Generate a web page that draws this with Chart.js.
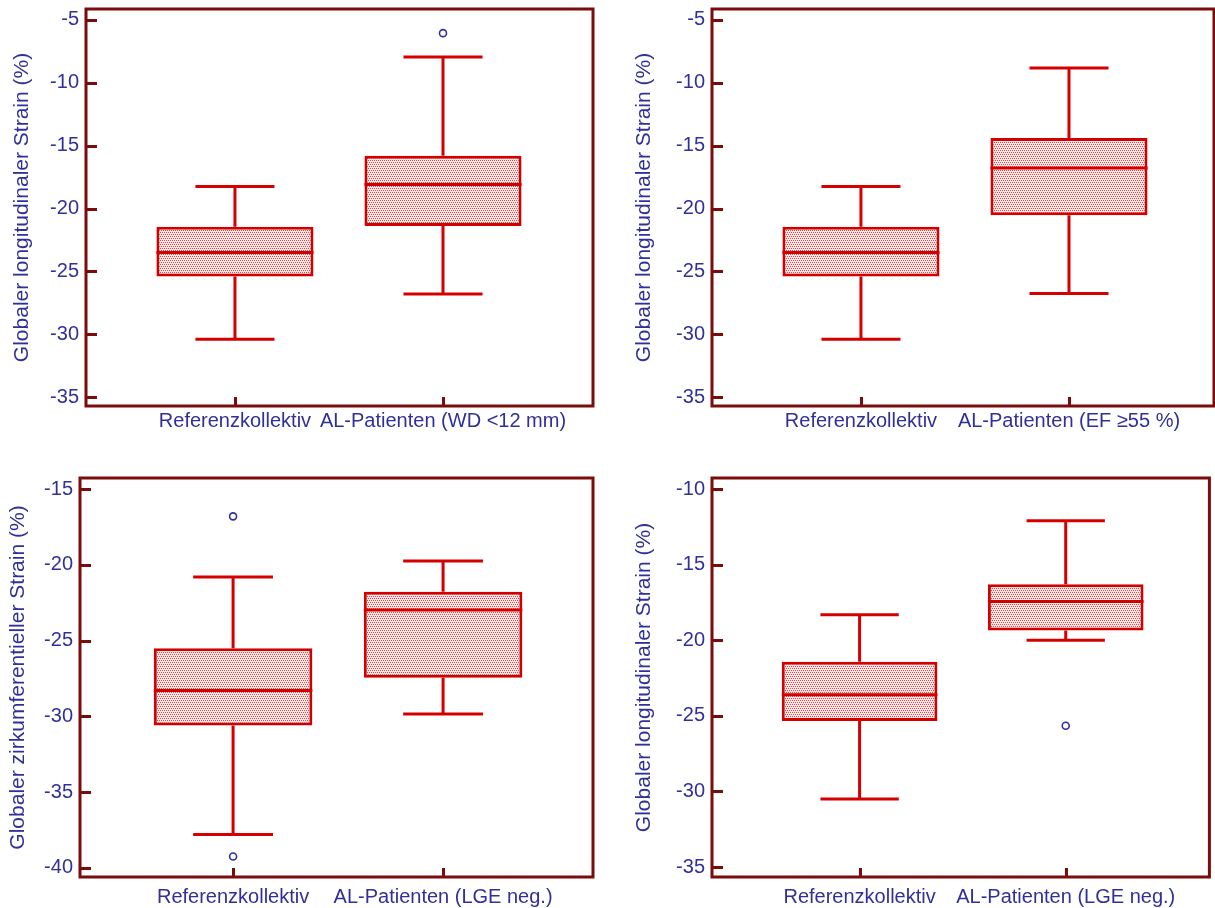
<!DOCTYPE html>
<html>
<head>
<meta charset="utf-8">
<title>Strain Boxplots</title>
<script src="https://cdn.jsdelivr.net/npm/chart.js@4.4.1/dist/chart.umd.min.js"></script>
<style>
  html, body { margin: 0; padding: 0; background: #fff; }
  .panel { position: absolute; }
</style>
</head>
<body>
<div class="panel" style="left:0;top:0;width:607px;height:454px"><canvas id="chartA"></canvas></div>
<div class="panel" style="left:607px;top:0;width:608px;height:454px"><canvas id="chartB"></canvas></div>
<div class="panel" style="left:0;top:454px;width:607px;height:454px"><canvas id="chartC"></canvas></div>
<div class="panel" style="left:607px;top:454px;width:608px;height:454px"><canvas id="chartD"></canvas></div>
<script>
// ---- data ----
const catsWD = ['Referenzkollektiv', 'AL-Patienten (WD <12 mm)'];
const catsEF = ['Referenzkollektiv', 'AL-Patienten (EF \u226555 %)'];
const catsLGE = ['Referenzkollektiv', 'AL-Patienten (LGE neg.)'];

const ticksGLS = [-35, -30, -25, -20, -15, -10, -5];
const ticksGCS = [-40, -35, -30, -25, -20, -15];
const ticksGLSLge = [-35, -30, -25, -20, -15, -10];

// GLS, WD < 12 mm
const wdMin = [-30.4, -26.8];
const wdQ1 = [-25.4, -21.4];
const wdMedian = [-23.5, -18.1];
const wdQ3 = [-21.45, -15.8];
const wdMax = [-18.25, -7.95];
const wdOutliers = [[], [-6.05]];

// GLS, EF >= 55 %
const efMin = [-30.4, -26.77];
const efQ1 = [-25.4, -20.53];
const efMedian = [-23.5, -16.77];
const efQ3 = [-21.45, -14.39];
const efMax = [-18.25, -8.83];
const efOutliers = [[], []];

// GCS, LGE neg.
const gcsMin = [-37.8, -29.85];
const gcsQ1 = [-30.6, -27.45];
const gcsMedian = [-28.3, -22.98];
const gcsQ3 = [-25.5, -21.77];
const gcsMax = [-20.8, -19.75];
const gcsOutliers = [[-16.8, -39.25], []];

// GLS, LGE neg.
const lgeMin = [-30.5, -20.0];
const lgeQ1 = [-25.35, -19.36];
const lgeMedian = [-23.6, -17.44];
const lgeQ3 = [-21.42, -16.29];
const lgeMax = [-18.32, -12.1];
const lgeOutliers = [[], [-25.66]];

// ---- style ----
const FONT = "'Liberation Sans', Arial, sans-serif";
const TEXT_BLUE = '#30309a';
const FRAME_COLOR = '#7a0c0c';
const BOX_RED = '#d40000';
const BOX_HALF = 0.3775;   // half box width in x units
const CAP_HALF = 0.19;     // half whisker cap width in x units

Chart.defaults.font.family = FONT;
Chart.defaults.animation = false;

function dotPattern(ctx) {
    const tile = document.createElement('canvas');
    tile.width = 4;
    tile.height = 4;
    const g = tile.getContext('2d');
    g.fillStyle = '#fce6e6';
    g.fillRect(0, 0, 4, 4);
    g.fillStyle = '#dc4a4a';
    [[0, 0], [2, 0], [1, 2], [3, 2]].forEach(([x, y]) => g.fillRect(x, y, 1, 1));
    return ctx.createPattern(tile, 'repeat');
}

// frame round the plot area plus inward tick marks
const framePlugin = {
    id: 'frame',
    afterDatasetsDraw(chart) {
        const { ctx, chartArea: a, scales: { x, y } } = chart;
        ctx.save();
        ctx.strokeStyle = FRAME_COLOR;
        ctx.lineWidth = 3;
        ctx.strokeRect(a.left, a.top, a.right - a.left, a.bottom - a.top);
        ctx.beginPath();
        y.ticks.forEach(t => {
            const py = Math.round(y.getPixelForValue(t.value)) + 0.5;
            ctx.moveTo(a.left, py);
            ctx.lineTo(a.left + 11, py);
        });
        x.ticks.forEach(t => {
            const px = Math.round(x.getPixelForValue(t.value)) + 0.5;
            ctx.moveTo(px, a.bottom);
            ctx.lineTo(px, a.bottom - 9);
        });
        ctx.stroke();
        ctx.restore();
    }
};

function buildDatasets(stats, pattern) {
    const boxes = [], whiskers = [], medians = [], outliers = [];
    stats.median.forEach((m, i) => {
        const x = i + 1;
        boxes.push({ x, y: [stats.q1[i], stats.q3[i]] });
        whiskers.push(
            { x, y: stats.q3[i] }, { x, y: stats.max[i] }, { x, y: null },
            { x: x - CAP_HALF, y: stats.max[i] }, { x: x + CAP_HALF, y: stats.max[i] }, { x, y: null },
            { x, y: stats.q1[i] }, { x, y: stats.min[i] }, { x, y: null },
            { x: x - CAP_HALF, y: stats.min[i] }, { x: x + CAP_HALF, y: stats.min[i] }, { x, y: null }
        );
        medians.push({ x: x - BOX_HALF, y: m }, { x: x + BOX_HALF, y: m }, { x, y: null });
        stats.outliers[i].forEach(v => outliers.push({ x, y: v }));
    });
    return [
        {
            type: 'scatter', data: outliers, order: 1,
            pointRadius: 3.5, pointBorderWidth: 1.6,
            pointBorderColor: TEXT_BLUE, pointBackgroundColor: '#fff'
        },
        {
            type: 'line', data: medians, order: 2,
            borderColor: BOX_RED, borderWidth: 3, pointRadius: 0, spanGaps: false
        },
        {
            type: 'line', data: whiskers, order: 3,
            borderColor: BOX_RED, borderWidth: 3, pointRadius: 0, spanGaps: false
        },
        {
            type: 'bar', data: boxes, order: 4,
            backgroundColor: pattern, borderColor: BOX_RED, borderWidth: 3,
            borderSkipped: false, barPercentage: BOX_HALF * 2, categoryPercentage: 1
        }
    ];
}

function makeChart(id, cfg) {
    const canvas = document.getElementById(id);
    const ctx = canvas.getContext('2d');
    return new Chart(canvas, {
        type: 'bar',
        data: { datasets: buildDatasets(cfg.stats, dotPattern(ctx)) },
        options: {
            responsive: true,
            maintainAspectRatio: false,
            events: [],
            layout: { padding: { left: 0, top: cfg.top, right: cfg.right, bottom: 0 } },
            plugins: { legend: { display: false }, tooltip: { enabled: false } },
            scales: {
                x: {
                    type: 'linear', min: cfg.xMin, max: cfg.xMax, offset: false,
                    grid: { display: false, drawTicks: false },
                    border: { display: false },
                    afterBuildTicks: s => { s.ticks = cfg.cats.map((c, i) => ({ value: i + 1 })); },
                    afterFit: s => { s.height = cfg.xHeight; s.paddingLeft = 0; s.paddingRight = 0; },
                    ticks: {
                        autoSkip: false, maxRotation: 0, minRotation: 0,
                        padding: cfg.labelPad, color: TEXT_BLUE,
                        font: { size: 20 },
                        callback: (v, i) => cfg.cats[i]
                    }
                },
                y: {
                    type: 'linear', min: cfg.yMin, max: cfg.yMax,
                    grid: { display: false, drawTicks: false },
                    border: { display: false },
                    afterBuildTicks: s => { s.ticks = cfg.yTicks.map(v => ({ value: v })); },
                    afterFit: s => { s.width = cfg.yWidth; s.paddingTop = 0; s.paddingBottom = 0; },
                    ticks: { padding: 7, color: TEXT_BLUE, font: { size: 20 } },
                    title: {
                        display: true, text: cfg.title, color: TEXT_BLUE,
                        font: { size: 21 }, padding: { top: cfg.titlePad, bottom: 0 }
                    }
                }
            }
        },
        plugins: [framePlugin]
    });
}

makeChart('chartA', {
    stats: { min: wdMin, q1: wdQ1, median: wdMedian, q3: wdQ3, max: wdMax, outliers: wdOutliers },
    cats: catsWD, yTicks: ticksGLS, title: 'Globaler longitudinaler Strain (%)',
    yMin: -35.71, yMax: -4.13, xMin: 0.284, xMax: 2.721,
    top: 9, right: 14, xHeight: 48, yWidth: 86, titlePad: 10, labelPad: 3
});
makeChart('chartB', {
    stats: { min: efMin, q1: efQ1, median: efMedian, q3: efQ3, max: efMax, outliers: efOutliers },
    cats: catsEF, yTicks: ticksGLS, title: 'Globaler longitudinaler Strain (%)',
    yMin: -35.71, yMax: -4.13, xMin: 0.284, xMax: 2.697,
    top: 9, right: 1, xHeight: 48, yWidth: 105, titlePad: 25, labelPad: 3
});
makeChart('chartC', {
    stats: { min: gcsMin, q1: gcsQ1, median: gcsMedian, q3: gcsQ3, max: gcsMax, outliers: gcsOutliers },
    cats: catsLGE, yTicks: ticksGCS, title: 'Globaler zirkumferentieller Strain (%)',
    yMin: -40.6, yMax: -14.27, xMin: 0.271, xMax: 2.714,
    top: 24, right: 14, xHeight: 31, yWidth: 80, titlePad: 6, labelPad: 8
});
makeChart('chartD', {
    stats: { min: lgeMin, q1: lgeQ1, median: lgeMedian, q3: lgeQ3, max: lgeMax, outliers: lgeOutliers },
    cats: catsLGE, yTicks: ticksGLSLge, title: 'Globaler longitudinaler Strain (%)',
    yMin: -35.66, yMax: -9.27, xMin: 0.284, xMax: 2.697,
    top: 24, right: 1, xHeight: 31, yWidth: 105, titlePad: 25, labelPad: 8
});
</script>
</body>
</html>
